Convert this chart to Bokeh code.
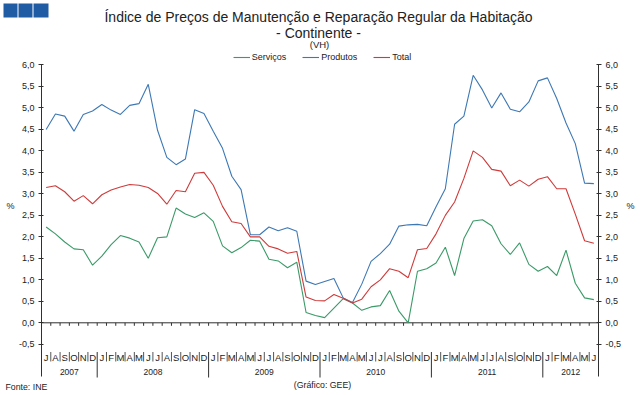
from bokeh.plotting import figure
from bokeh.models import (LinearAxis, FixedTicker, CustomJSTickFormatter, Range1d,
                          Legend, LegendItem)
from bokeh.core.properties import value
from bokeh.embed import file_html
from bokeh.resources import INLINE

# ---------------- data ----------------
months = (["J", "A", "S", "O", "N", "D"]
          + ["J", "F", "M", "A", "M", "J", "J", "A", "S", "O", "N", "D"] * 4
          + ["J", "F", "M", "A", "M", "J"])
years = ["2007", "2008", "2009", "2010", "2011", "2012"]
year_months = [6, 12, 12, 12, 12, 6]

servicos = [2.23, 2.07, 1.88, 1.72, 1.70, 1.34, 1.55, 1.82, 2.03, 1.97, 1.88, 1.50,
            1.98, 2.00, 2.67, 2.53, 2.45, 2.56, 2.36, 1.79, 1.63, 1.75, 1.92, 1.90,
            1.48, 1.44, 1.28, 1.41, 0.24, 0.17, 0.12, 0.34, 0.56, 0.46, 0.29, 0.37,
            0.40, 0.75, 0.27, 0.00, 1.20, 1.26, 1.39, 1.76, 1.10, 1.96, 2.37, 2.40,
            2.26, 1.84, 1.59, 1.86, 1.36, 1.20, 1.31, 1.10, 1.69, 0.92, 0.58, 0.54]
produtos = [4.50, 4.86, 4.81, 4.46, 4.85, 4.93, 5.08, 4.95, 4.85, 5.06, 5.10, 5.55,
            4.48, 3.85, 3.68, 3.81, 4.96, 4.87, 4.46, 4.06, 3.41, 3.10, 2.05, 2.05,
            2.23, 2.14, 2.21, 2.13, 0.97, 0.89, 0.96, 1.03, 0.58, 0.47, 0.90, 1.43,
            1.61, 1.83, 2.25, 2.28, 2.29, 2.26, 2.70, 3.12, 4.62, 4.81, 5.76, 5.42,
            5.00, 5.35, 4.97, 4.91, 5.14, 5.63, 5.70, 5.22, 4.65, 4.17, 3.25, 3.24]
total = [3.15, 3.19, 3.05, 2.83, 2.96, 2.77, 2.98, 3.09, 3.16, 3.22, 3.20, 3.15,
         3.01, 2.76, 3.08, 3.05, 3.48, 3.50, 3.20, 2.71, 2.35, 2.31, 2.00, 2.00,
         1.78, 1.72, 1.62, 1.66, 0.60, 0.52, 0.51, 0.66, 0.57, 0.46, 0.55, 0.84,
         1.00, 1.26, 1.20, 1.05, 1.70, 1.73, 2.07, 2.50, 2.81, 3.36, 4.00, 3.85,
         3.57, 3.53, 3.19, 3.32, 3.18, 3.34, 3.40, 3.12, 3.12, 2.53, 1.91, 1.85]
y_ticks = [-0.5, 0.0, 0.5, 1.0, 1.5, 2.0, 2.5, 3.0, 3.5, 4.0, 4.5, 5.0, 5.5, 6.0]

title1 = "Índice de Preços de Manutenção e Reparação Regular da Habitação"
title2 = "- Continente -"
title3 = "(VH)"
source_txt = "Fonte: INE"
credit_txt = "(Gráfico: GEE)"

# ---------------- layout helpers (pixel -> data) ----------------
W, H = 643, 395
n = len(months)
LEFT_PX, RIGHT_PX = 41.0, 598.0
ZERO_PX, PX_PER_UNIT = 322.3, 42.97
PX_PER_CAT = (RIGHT_PX - LEFT_PX) / n


def X(px):
    return (px - LEFT_PX) / PX_PER_CAT


def Y(py):
    return (ZERO_PX - py) / PX_PER_UNIT


x = [i + 0.5 for i in range(n)]
FONT = "Liberation Sans"
C_S, C_P, C_T = "#3a9a68", "#3d78b4", "#cf3b3b"
AX = "#303030"
TXT = "#222222"

p = figure(width=W, height=H, x_range=Range1d(X(0), X(W)), y_range=Range1d(Y(H), Y(0)),
           output_backend="svg", toolbar_location=None,
           x_axis_location=None, y_axis_location=None,
           min_border_left=0, min_border_right=0, min_border_top=0, min_border_bottom=0)
p.outline_line_color = None
p.grid.visible = False
p.background_fill_color = "white"
p.border_fill_color = "white"

fmt = CustomJSTickFormatter(code="return tick.toFixed(1).replace('.', ',');")
for side, loc in (("left", 0), ("right", n)):
    ax = LinearAxis(ticker=FixedTicker(ticks=y_ticks), formatter=fmt,
                    bounds=(Y(375.5), y_ticks[-1]), fixed_location=loc)
    ax.axis_line_color = AX
    ax.major_tick_line_color = AX
    ax.major_tick_out = 3
    ax.major_tick_in = 2
    ax.minor_tick_line_color = None
    ax.major_label_standoff = 4
    ax.major_label_text_font = FONT
    ax.major_label_text_font_size = "9px"
    ax.major_label_text_color = TXT
    p.add_layout(ax, side)

# horizontal category axis at 0
p.segment(x0=[0], y0=[0], x1=[n], y1=[0], line_color=AX, line_width=1)
p.segment(x0=list(range(n + 1)), y0=[0] * (n + 1), x1=list(range(n + 1)),
          y1=[Y(ZERO_PX + 3)] * (n + 1), line_color=AX, line_width=1)

# month and year labels
bounds_year = []
acc = 0
year_centers = []
for c in year_months:
    year_centers.append(acc + c / 2)
    acc += c
    bounds_year.append(acc)
sep_x = [k for k in range(1, n) if k not in bounds_year]
p.segment(x0=sep_x, y0=[Y(351.5)] * len(sep_x), x1=sep_x, y1=[Y(361)] * len(sep_x),
          line_color="#555555", line_width=1)
yb = bounds_year[:-1]
p.segment(x0=yb, y0=[Y(351.5)] * len(yb), x1=yb, y1=[Y(377)] * len(yb),
          line_color=AX, line_width=1)
p.text(x=x, y=[Y(356.5)] * n, text=months, text_font=value(FONT), text_font_size="9.5px",
       text_align="center", text_baseline="middle", text_color=TXT)
p.text(x=year_centers, y=[Y(371.5)] * len(years), text=years, text_font=value(FONT),
       text_font_size="8.5px", text_align="center", text_baseline="middle", text_color=TXT)

# series
r_s = p.line(x, servicos, line_color=C_S, line_width=1.1)
r_p = p.line(x, produtos, line_color=C_P, line_width=1.1)
r_t = p.line(x, total, line_color=C_T, line_width=1.1)

legend = Legend(items=[LegendItem(label="Serviços", renderers=[r_s]),
                       LegendItem(label="Produtos", renderers=[r_p]),
                       LegendItem(label="Total", renderers=[r_t])],
                orientation="horizontal", location=(232.7, H - 62),
                glyph_width=17, glyph_height=10, label_height=10, label_standoff=2,
                spacing=16, padding=0, margin=0,
                border_line_color=None, background_fill_alpha=0,
                label_text_font=FONT, label_text_font_size="9px", label_text_color=TXT)
p.add_layout(legend)

# titles
p.text(x=[X(318)], y=[Y(16)], text=[title1], text_font=value(FONT), text_font_size="14px",
       text_align="center", text_baseline="middle", text_color=TXT)
p.text(x=[X(318)], y=[Y(32)], text=[title2], text_font=value(FONT), text_font_size="14px",
       text_align="center", text_baseline="middle", text_color=TXT)
p.text(x=[X(319)], y=[Y(44)], text=[title3], text_font=value(FONT), text_font_size="9.5px",
       text_align="center", text_baseline="middle", text_color=TXT)

# percent signs, source and credit
p.text(x=[X(10), X(630)], y=[Y(205), Y(205)], text=["%", "%"], text_font=value(FONT),
       text_font_size="9px", text_align="center", text_baseline="middle", text_color=TXT)
p.text(x=[X(5)], y=[Y(386)], text=[source_txt], text_font=value(FONT),
       text_font_size="8.75px", text_align="left", text_baseline="middle", text_color=TXT)
p.text(x=[X(322)], y=[Y(384)], text=[credit_txt], text_font=value(FONT),
       text_font_size="8.75px", text_align="center", text_baseline="middle", text_color=TXT)

# logo: three blue squares
p.quad(left=[X(3), X(18), X(33)], right=[X(17), X(32), X(48)],
       top=[Y(3)] * 3, bottom=[Y(17)] * 3, fill_color="#1f5ca3", line_color=None)

open("out.html", "w").write(file_html(p, INLINE))
